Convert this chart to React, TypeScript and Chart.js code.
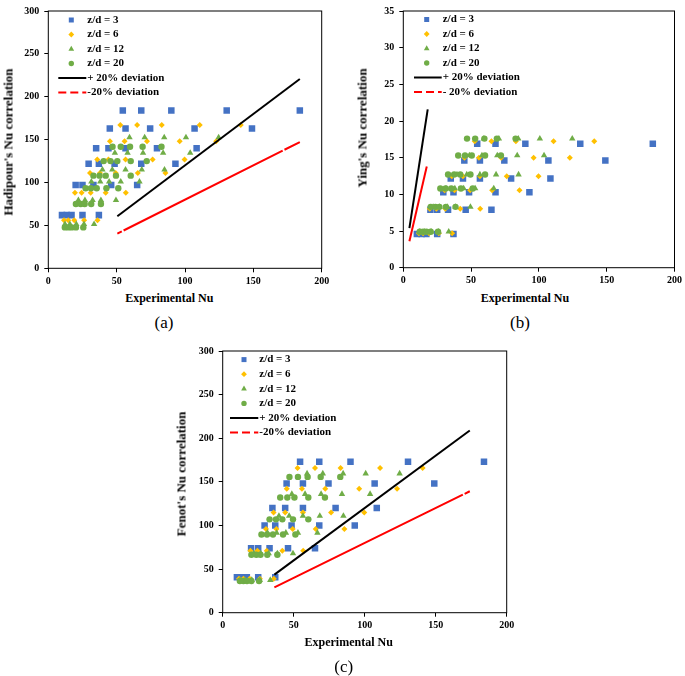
import React, { useEffect, useRef } from 'react';
import { Chart, registerables } from 'chart.js';

Chart.register(...registerables);

const SERIF = "'Liberation Serif', 'Times New Roman', serif";

// ---------- data ----------
const seriesLabels = ['z/d = 3', 'z/d = 6', 'z/d = 12', 'z/d = 20'];
const xTickStep = 50;

// Experimental Nu, 6 Reynolds levels x 5 points per series
const expNuZ3 = [10, 13.5, 17, 25, 37, 20, 25, 33, 46, 65, 29.5, 37, 48.5, 68, 93, 35, 44, 56.5, 79.5, 108.5, 45, 56.5, 74.5, 107, 149, 54.5, 68, 90, 130.5, 184];
const expNuZ6 = [11.5, 14.6, 19, 26.2, 36, 19.5, 24.4, 31, 42, 56.7, 30.5, 37.8, 49.3, 65.5, 85.7, 35.8, 44, 56.5, 76.3, 99.7, 45.1, 55.8, 72.2, 96.1, 122.8, 52.7, 65, 83, 110.8, 140.8];
const expNuZ12 = [12.2, 15.8, 20.5, 26.1, 33.5, 22, 26.8, 32.4, 38.5, 49.5, 31.5, 38, 44.5, 53, 66.7, 39.6, 46.8, 56.5, 68.4, 85, 48.7, 58, 69.3, 84, 103.8, 59.4, 70.5, 84.8, 100.7, 124.6];
const expNuZ20 = [12.1, 14.6, 17.1, 20.2, 25.6, 20.2, 23.7, 26.6, 31.4, 38.5, 27.3, 31.2, 35.4, 42.5, 51.2, 33, 37.5, 42, 49.5, 60.3, 40.5, 45.5, 50.5, 60.3, 72, 47, 53, 59.8, 69, 82.8];

// Correlation values for each of the 6 levels
const hadipourZ3 = [62, 97, 122, 140, 163, 184];
const hadipourZ6 = [56, 88, 111, 127, 148, 167];
const hadipourZ12 = [51.5, 79.5, 101, 115, 134.5, 152.5];
const hadipourZ20 = [47.7, 75, 93.4, 108, 125, 141.8];

const yingZ3 = [4.6, 7.9, 10.3, 12.15, 14.6, 16.9];
const yingZ6 = [4.7, 8.05, 10.55, 12.47, 15.0, 17.25];
const yingZ12 = [4.9, 8.3, 10.8, 12.7, 15.3, 17.6];
const yingZ20 = [4.9, 8.3, 10.8, 12.7, 15.3, 17.6];

const fenotZ3 = [40.5, 74, 100, 120, 148, 173];
const fenotZ6 = [39, 71, 96, 115, 142, 166];
const fenotZ12 = [37.4, 68, 91.6, 111, 136, 159.5];
const fenotZ20 = [36.3, 66.5, 89.7, 107, 132, 155.7];

// ±20 % deviation lines (end points)
const devA_plusX = [50.5, 184];
const devA_plusY = [60.6, 220.8];
const devA_minusX = [50.5, 184];
const devA_minusY = [40.4, 147.2];

const devB_plusX = [4.5, 18];
const devB_plusY = [5.4, 21.6];
const devB_minusX = [4.5, 17.3];
const devB_minusY = [3.6, 13.8];

const devC_plusX = [36.4, 174];
const devC_plusY = [43.7, 208.8];
const devC_minusX = [36.4, 174];
const devC_minusY = [29.1, 139.2];

// ---------- styling ----------
const seriesStyle = [
  { color: '#4472C4', style: 'rect', r: 4.6 },
  { color: '#FFC000', style: 'rectRot', r: 3 },
  { color: '#70AD47', style: 'triangle', r: 3.7 },
  { color: '#70AD47', style: 'circle', r: 3.2 },
];
const expNu = [expNuZ3, expNuZ6, expNuZ12, expNuZ20];

function drawLegendMarker(ctx: CanvasRenderingContext2D, style: string, x: number, y: number, color: string) {
  ctx.fillStyle = color;
  ctx.beginPath();
  if (style === 'rect') {
    ctx.rect(x - 2.5, y - 2.5, 5, 5);
  } else if (style === 'rectRot') {
    const r = 2.9;
    ctx.moveTo(x - r, y); ctx.lineTo(x, y - r); ctx.lineTo(x + r, y); ctx.lineTo(x, y + r); ctx.closePath();
  } else if (style === 'triangle') {
    const r = 3.3;
    ctx.moveTo(x, y - r);
    ctx.lineTo(x + r * Math.sin(2 * Math.PI / 3), y - r * Math.cos(2 * Math.PI / 3));
    ctx.lineTo(x + r * Math.sin(4 * Math.PI / 3), y - r * Math.cos(4 * Math.PI / 3));
    ctx.closePath();
  } else {
    ctx.arc(x, y, 2.7, 0, Math.PI * 2);
  }
  ctx.fill();
}

const framePlugin = {
  id: 'frame',
  beforeDatasetsDraw(chart: any) {
    const { ctx, chartArea } = chart;
    ctx.save();
    ctx.strokeStyle = '#000';
    ctx.lineWidth = 1;
    ctx.strokeRect(chartArea.left, chartArea.top, chartArea.right - chartArea.left, chartArea.bottom - chartArea.top);
    ctx.restore();
  },
};

const legendPlugin = {
  id: 'cornerLegend',
  afterDraw(chart: any) {
    const opts = chart.options.plugins.cornerLegend;
    const { ctx, chartArea } = chart;
    ctx.save();
    ctx.font = `bold 11px ${SERIF}`;
    ctx.textBaseline = 'middle';
    chart.data.datasets.forEach((ds: any, i: number) => {
      const y = chartArea.top + opts.firstRow + i * opts.rowGap;
      if (ds.showLine) {
        ctx.save();
        ctx.strokeStyle = ds.borderColor;
        ctx.lineWidth = 2;
        ctx.setLineDash(ds.legendDash || []);
        ctx.beginPath();
        ctx.moveTo(chartArea.left + opts.lineStart, y);
        ctx.lineTo(chartArea.left + opts.textX - 1, y);
        ctx.stroke();
        ctx.restore();
      } else {
        drawLegendMarker(ctx, ds.pointStyle, chartArea.left + opts.markerX, y, ds.backgroundColor);
      }
      ctx.fillStyle = '#000';
      ctx.fillText(ds.label, chartArea.left + opts.textX, y);
    });
    ctx.restore();
  },
};

type PanelProps = {
  left: number; top: number; width: number; height: number;
  plotLeft: number; plotRight: number; plotTop: number; plotBottom: number;
  yMax: number; yStep: number;
  levels: number[][];
  plusX: number[]; plusY: number[]; minusX: number[]; minusY: number[];
  minusLabel: string; minusDash: number[];
  legend: { markerX: number; textX: number; lineStart: number; firstRow: number; rowGap: number };
};

function Panel(p: PanelProps) {
  const ref = useRef<HTMLCanvasElement>(null);
  useEffect(() => {
    if (!ref.current) return;
    const tickFont = { family: SERIF, size: 10, weight: 'bold' as const };
    const datasets: any[] = expNu.map((xs, k) => ({
      label: seriesLabels[k],
      data: xs.map((x, i) => ({ x, y: p.levels[k][Math.floor(i / 5)] })),
      pointStyle: seriesStyle[k].style,
      pointRadius: seriesStyle[k].r,
      pointHoverRadius: seriesStyle[k].r,
      backgroundColor: seriesStyle[k].color,
      borderColor: seriesStyle[k].color,
      pointBorderWidth: 0,
      order: 5 - k,
    }));
    datasets.push({
      label: '+ 20% deviation',
      data: p.plusX.map((x, i) => ({ x, y: p.plusY[i] })),
      showLine: true, borderColor: '#000000', backgroundColor: '#000000', borderWidth: 2,
      pointRadius: 0, pointHoverRadius: 0, order: 0,
    });
    datasets.push({
      label: p.minusLabel,
      data: p.minusX.map((x, i) => ({ x, y: p.minusY[i] })),
      showLine: true, borderColor: '#FF0000', backgroundColor: '#FF0000', borderWidth: 2,
      borderDash: p.minusDash, legendDash: [8, 4],
      pointRadius: 0, pointHoverRadius: 0, order: 1,
    });
    const yW = p.plotLeft - p.left;
    const xH = p.top + p.height - p.plotBottom;
    const chart = new Chart(ref.current, {
      type: 'scatter',
      data: { datasets },
      options: {
        responsive: false,
        animation: false,
        devicePixelRatio: 1,
        layout: { padding: { left: 0, top: p.plotTop - p.top, right: p.left + p.width - p.plotRight, bottom: 0 } },
        plugins: {
          legend: { display: false },
          tooltip: { enabled: false },
          // @ts-ignore
          cornerLegend: p.legend,
        },
        scales: {
          x: {
            type: 'linear', min: 0, max: 200,
            ticks: { stepSize: xTickStep, color: '#000', font: tickFont, padding: 3 },
            grid: { drawOnChartArea: false, color: '#000', tickLength: 4 },
            border: { display: false },
            afterFit: (s: any) => { s.height = xH; },
          },
          y: {
            type: 'linear', min: 0, max: p.yMax,
            ticks: { stepSize: p.yStep, color: '#000', font: tickFont, padding: 5 },
            grid: { drawOnChartArea: false, color: '#000', tickLength: 4 },
            border: { display: false },
            afterFit: (s: any) => { s.width = yW; },
          },
        },
      } as any,
      plugins: [framePlugin, legendPlugin],
    });
    return () => chart.destroy();
  }, []);
  return (
    <canvas ref={ref} width={p.width} height={p.height}
      style={{ position: 'absolute', left: p.left, top: p.top, width: p.width, height: p.height }} />
  );
}

function Label(props: { x: number; y: number; size: number; bold?: boolean; rotate?: boolean; text: string }) {
  return (
    <div style={{
      position: 'absolute', left: props.x, top: props.y,
      transform: `translate(-50%, -50%)${props.rotate ? ' rotate(-90deg)' : ''}`,
      font: `${props.bold ? 'bold ' : ''}${props.size}px ${SERIF}`,
      lineHeight: 1, whiteSpace: 'nowrap', color: '#000',
    }}>{props.text}</div>
  );
}

export default function App() {
  return (
    <div style={{ position: 'absolute', left: 0, top: 0, width: 685, height: 676, background: '#fff', overflow: 'hidden' }}>
      <Panel left={0} top={0} width={335} height={290}
        plotLeft={48.3} plotRight={321.7} plotTop={6} plotBottom={268.3}
        yMax={300} yStep={50}
        levels={[hadipourZ3, hadipourZ6, hadipourZ12, hadipourZ20]}
        plusX={devA_plusX} plusY={devA_plusY} minusX={devA_minusX} minusY={devA_minusY}
        minusLabel="-20% deviation" minusDash={[5, 2, 178, 2, 100, 2]}
        legend={{ markerX: 23, textX: 39, lineStart: 10, firstRow: 9, rowGap: 14.5 }} />
      <Panel left={355} top={0} width={330} height={290}
        plotLeft={403.3} plotRight={676.7} plotTop={6.7} plotBottom={267.7}
        yMax={35} yStep={5}
        levels={[yingZ3, yingZ6, yingZ12, yingZ20]}
        plusX={devB_plusX} plusY={devB_plusY} minusX={devB_minusX} minusY={devB_minusY}
        minusLabel="- 20% deviation" minusDash={[]}
        legend={{ markerX: 23.4, textX: 39.4, lineStart: 10.7, firstRow: 8.5, rowGap: 14.5 }} />
      <Panel left={175} top={340} width={345} height={300}
        plotLeft={222.7} plotRight={506.7} plotTop={350.7} plotBottom={612.7}
        yMax={300} yStep={50}
        levels={[fenotZ3, fenotZ6, fenotZ12, fenotZ20]}
        plusX={devC_plusX} plusY={devC_plusY} minusX={devC_minusX} minusY={devC_minusY}
        minusLabel="-20% deviation" minusDash={[210, 2, 60, 2]}
        legend={{ markerX: 21.3, textX: 36.6, lineStart: 7.3, firstRow: 8.6, rowGap: 14.6 }} />

      <Label x={169.3} y={298} size={12} bold text="Experimental Nu" />
      <Label x={8.3} y={141.7} size={13} bold rotate text="Hadipour's Nu correlation" />
      <Label x={164} y={322} size={17} text="(a)" />

      <Label x={525} y={298} size={12} bold text="Experimental Nu" />
      <Label x={361.7} y={127.5} size={13} bold rotate text="Ying's Nu correlation" />
      <Label x={520} y={322} size={17} text="(b)" />

      <Label x={348.7} y={641.7} size={12} bold text="Experimental Nu" />
      <Label x={181} y={474} size={13} bold rotate text="Fenot's Nu correlation" />
      <Label x={343.7} y={665.7} size={17} text="(c)" />
    </div>
  );
}
